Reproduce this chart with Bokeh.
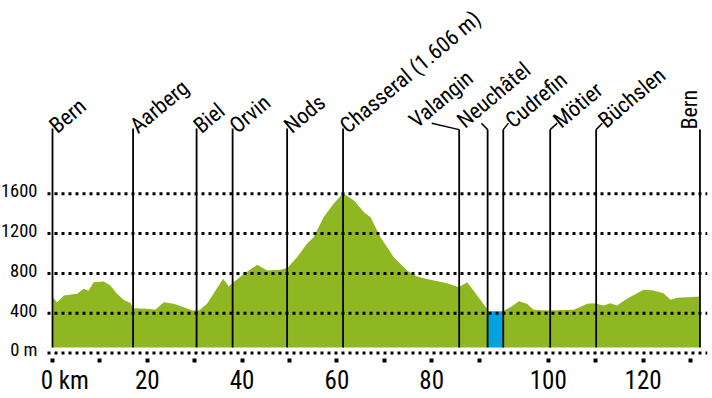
from bokeh.plotting import figure
from bokeh.models import FixedTicker, Range1d
from bokeh.core.properties import value
from bokeh.embed import file_html
from bokeh.resources import INLINE

# ---- data ----
# elevation profile (km, m): Bern -> Neuchâtel
profile1_km = [0.0, 1.0, 2.4, 5.2, 6.6, 7.6, 8.7, 10.8, 12.2, 13.6, 15.0, 16.5, 17.0,
               20.0, 21.7, 23.5, 25.6, 27.7, 29.5, 30.9, 32.6, 34.4, 36.0, 37.2, 38.2,
               40.4, 43.2, 45.3, 48.1, 49.6, 51.6, 53.7, 55.1, 57.2, 59.3, 61.3, 63.6,
               65.7, 67.1, 69.2, 72.0, 74.8, 76.9, 79.7, 83.3, 85.7, 87.5, 89.6, 91.9]
profile1_m = [560, 511, 578, 595, 645, 625, 711, 719, 678, 595, 535, 500, 450,
              444, 434, 511, 494, 460, 427, 427, 494, 628, 746, 668, 711,
              796, 886, 829, 836, 856, 963, 1097, 1164, 1365, 1499, 1606, 1533,
              1415, 1365, 1164, 963, 829, 769, 736, 702, 661, 711, 578, 430]
# Cudrefin -> Bern
profile2_km = [95.2, 95.6, 96.6, 98.4, 100.1, 101.5, 104.4, 110.0, 112.8, 114.2, 116.3,
               117.7, 119.1, 121.2, 124.7, 126.8, 128.9, 130.4, 131.8, 133.9, 136.6]
profile2_m = [430, 435, 460, 521, 494, 434, 427, 434, 494, 500, 477,
              500, 477, 545, 635, 628, 601, 535, 555, 561, 568]
# lake crossing (boat)
lake_km = [91.9, 95.2]
lake_m = 420

stations = ["Bern", "Aarberg", "Biel", "Orvin", "Nods", "Chasseral (1.606 m)",
            "Valangin", "Neuchâtel", "Cudrefin", "Mötier", "Büchslen", "Bern"]
station_km = [0.0, 17.0, 30.4, 38.0, 49.5, 61.3, 85.8, 91.8, 95.1, 105.0, 114.7, 136.6]
label_km = [0.0, 17.0, 30.4, 38.0, 49.5, 61.3, 75.9, 86.0, 96.2, 106.3, 115.8, 134.3]
leader_km = [80.0, 90.5, 96.2, 106.5, 116.0]

elev_ticks = [0, 400, 800, 1200, 1600]
elev_labels = ["0 m", "400", "800", "1200", "1600"]
km_ticks = [0, 10, 20, 30, 40, 50, 60, 70, 80, 90, 104.6, 114.6, 124.6, 134.6]
km_labels = ["\u2007\u20070 km", "", "20", "", "40", "", "60", "", "80", "", "100", "", "120", ""]

# ---- layout constants ----
X0, X1 = -10.97, 138.19   # visible km range (frame spans whole width)
GRID_X0 = -1.055          # dotted grid lines start a little left of 0 km
BASE = 55                 # bottom of profile fill / station lines
TOP_LEFT = 2256           # top of station lines (left group)
TOP_RIGHT = 2245          # knee of leader lines
LEADER_TOP = 2310
FONT_NAME = "'Roboto Condensed', 'DejaVu Sans Condensed', 'Liberation Sans'"
FONT = value(FONT_NAME)
GREEN = "#8fb722"
BLUE = "#00a3e0"

p = figure(width=712, height=398, x_range=Range1d(X0, X1),
           y_range=Range1d(-55.3, 3542.7), output_backend="svg",
           toolbar_location=None, y_axis_location=None,
           min_border_left=0, min_border_right=5, min_border_top=0, min_border_bottom=40)
p.outline_line_color = None
p.grid.visible = False

# profile
p.varea(x=profile1_km, y1=BASE, y2=profile1_m, fill_color=GREEN)
p.varea(x=profile2_km, y1=BASE, y2=profile2_m, fill_color=GREEN)
p.quad(left=lake_km[0], right=lake_km[1], bottom=BASE, top=lake_m, fill_color=BLUE, line_color=None)

# station lines
n_left = 6
p.segment(x0=station_km[:n_left], y0=BASE, x1=station_km[:n_left], y1=TOP_LEFT,
          line_color="black", line_width=1.8)
p.segment(x0=station_km[n_left:], y0=BASE, x1=station_km[n_left:], y1=TOP_RIGHT,
          line_color="black", line_width=1.8)
p.segment(x0=leader_km, y0=LEADER_TOP, x1=station_km[n_left:-1], y1=TOP_RIGHT,
          line_color="black", line_width=1.5)

# dotted elevation grid
p.segment(x0=GRID_X0, y0=elev_ticks, x1=X1, y1=elev_ticks,
          line_color="black", line_width=3, line_dash="3 4")

# station labels
ANG = 40
p.text(x=label_km[:n_left], y=TOP_LEFT, text=stations[:n_left], angle=ANG, angle_units="deg",
       text_font=FONT, text_font_size="22px", text_align="left", text_baseline="alphabetic",
       text_color="black")
p.text(x=label_km[n_left:-1], y=LEADER_TOP, text=stations[n_left:-1], angle=ANG, angle_units="deg",
       text_font=FONT, text_font_size="22px", text_align="left", text_baseline="alphabetic",
       text_color="black")
p.text(x=label_km[-1:], y=TOP_RIGHT, text=stations[-1:], angle=90, angle_units="deg",
       text_font=FONT, text_font_size="22px", text_align="left", text_baseline="alphabetic",
       text_color="black")

# elevation labels
p.text(x=GRID_X0, y=elev_ticks, text=elev_labels, x_offset=-10, y_offset=-3,
       text_font=FONT, text_font_size="18.5px", text_align="right",
       text_baseline="alphabetic", text_color="black")

# km axis
ax = p.xaxis[0]
ax.ticker = FixedTicker(ticks=km_ticks)
ax.major_label_overrides = {t: l for t, l in zip(km_ticks, km_labels)}
ax.axis_line_color = None
ax.minor_tick_line_color = None
ax.major_tick_in = 0
ax.major_tick_out = 4
ax.major_tick_line_width = 4
ax.major_tick_line_color = "black"
ax.major_label_standoff = 3
ax.major_label_text_font = FONT_NAME
ax.major_label_text_font_size = "25px"
ax.major_label_text_color = "black"

open("out.html", "w").write(file_html(p, INLINE))
